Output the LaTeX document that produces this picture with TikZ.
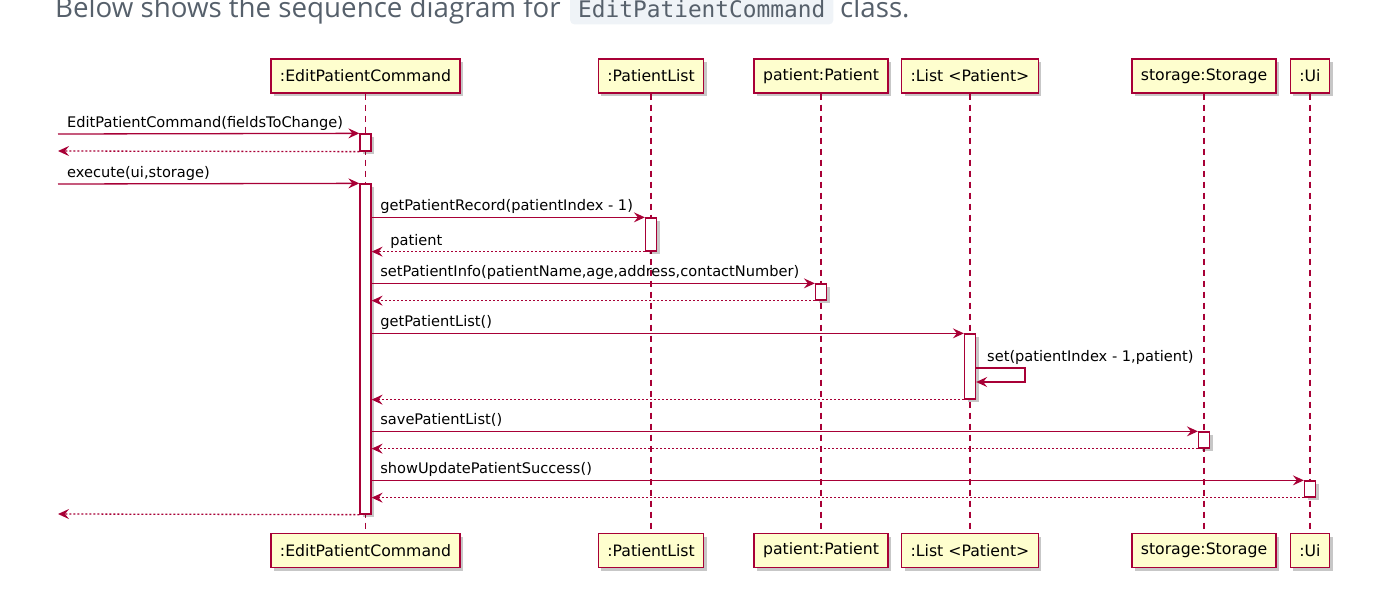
\documentclass[tikz,border=0pt]{standalone}
\usepackage{fontspec}
\setmainfont{DejaVu Sans}
\newfontfamily\titlefont{Open Sans}
\newfontfamily\codefont{DejaVu Sans Mono}
\usetikzlibrary{arrows.meta,shadows}
\definecolor{puml}{HTML}{A80036}
\definecolor{pfill}{HTML}{FEFECE}
\definecolor{titlegray}{HTML}{56606B}
\definecolor{codebg}{HTML}{EFF3F7}
\begin{document}
\begin{tikzpicture}[x=1pt,y=-1pt,
 shadowed/.style={drop shadow={shadow xshift=3pt,shadow yshift=-3pt,fill=black,opacity=0.22}},
 part/.style={draw=puml, fill=pfill, line width=1.4pt, minimum height=34pt, inner xsep=9pt, inner ysep=0pt, font=\fontsize{15.7}{18}\selectfont, text=black, shadowed},
 act/.style={draw=puml, fill=white, line width=1.3pt, minimum width=11pt, inner sep=0pt, shadowed},
 life/.style={draw=puml, line width=1.1pt, dash pattern=on 6pt off 5pt},
 msg/.style={draw=puml, line width=1.3pt, -{Stealth[length=11pt,width=10pt,inset=4pt]}},
 ret/.style={msg, dash pattern=on 2pt off 2pt},
 lbl/.style={font=\fontsize{14.6}{17}\selectfont, text=black, anchor=base west, inner sep=0pt},
 ttl/.style={anchor=base west, inner sep=0pt, font=\titlefont\fontsize{27.7}{32}\selectfont, text=titlegray},
]
\useasboundingbox (0,0) rectangle (1380,604);
% title
\node[ttl] (title1) at (55,18) {Below shows the sequence diagram for};
\node[anchor=base west, fill=codebg, rounded corners=4pt, inner xsep=8pt, inner ysep=6pt, font=\codefont\fontsize{22.8}{27}\selectfont, text=titlegray] (code) at (570,18) {EditPatientCommand};
\node[ttl] (title2) at (840,18) {class.};
% participants
\node[part] (t1) at (365.5,76) {:EditPatientCommand};
\node[part] (t2) at (651,76) {:PatientList};
\node[part] (t3) at (821,76) {patient:Patient};
\node[part] (t4) at (970,76) {:List <Patient>};
\node[part] (t5) at (1204,76) {storage:Storage};
\node[part] (t6) at (1310,76) {:Ui};
\node[part] (b1) at (365.5,550.5) {:EditPatientCommand};
\node[part] (b2) at (651,550.5) {:PatientList};
\node[part] (b3) at (821,550.5) {patient:Patient};
\node[part] (b4) at (970,550.5) {:List <Patient>};
\node[part] (b5) at (1204,550.5) {storage:Storage};
\node[part] (b6) at (1310,550.5) {:Ui};
% lifelines
\draw[life] (t1) -- (b1);
\draw[life] (t2) -- (b2);
\draw[life] (t3) -- (b3);
\draw[life] (t4) -- (b4);
\draw[life] (t5) -- (b5);
\draw[life] (t6) -- (b6);
% activations
\node[act, minimum height=17pt] (A1) at (365.5,142.5) {};
\node[act, minimum height=330pt] (A2) at (365.5,349) {};
\node[act, minimum height=33pt] (P1) at (651,234.5) {};
\node[act, minimum height=16pt] (P2) at (821,292) {};
\node[act, minimum height=65pt] (L1) at (970,366.5) {};
\node[act, minimum height=16pt] (S1) at (1204,440) {};
\node[act, minimum height=16pt] (U1) at (1310,489) {};
% free ends
\coordinate (c1) at (58,134);
\coordinate (c2) at (58,151);
\coordinate (c3) at (58,184);
\coordinate (c4) at (58,514);
\coordinate (s1) at (1025,368);
\coordinate (s2) at (1025,382);
% messages
\draw[msg] (c1) -- (A1.north west) node[lbl, pos=0, xshift=8.5pt, yshift=6.5pt] {EditPatientCommand(fieldsToChange)};
\draw[ret] (A1.south west) -- (c2);
\draw[msg] (c3) -- (A2.north west) node[lbl, pos=0, xshift=8.5pt, yshift=6.5pt] {execute(ui,storage)};
\draw[msg] (A2.east |- P1.north) -- (P1.north west) node[lbl, pos=0, xshift=8pt, yshift=6.5pt] {getPatientRecord(patientIndex - 1)};
\draw[ret] (P1.south west) -- (A2.east |- P1.south) node[lbl, pos=1, xshift=18pt, yshift=6.5pt] {patient};
\draw[msg] (A2.east |- P2.north) -- (P2.north west) node[lbl, pos=0, xshift=8pt, yshift=6.5pt] {setPatientInfo(patientName,age,address,contactNumber)};
\draw[ret] (P2.south west) -- (A2.east |- P2.south);
\draw[msg] (A2.east |- L1.north) -- (L1.north west) node[lbl, pos=0, xshift=8pt, yshift=6.5pt] {getPatientList()};
\draw[msg] (L1.east |- s1) -- (s1) -- (s2) -- (L1.east |- s2);
\node[lbl] (slbl) at (987,361) {set(patientIndex - 1,patient)};
\draw[ret] (L1.south west) -- (A2.east |- L1.south);
\draw[msg] (A2.east |- S1.north) -- (S1.north west) node[lbl, pos=0, xshift=8pt, yshift=6.5pt] {savePatientList()};
\draw[ret] (S1.south west) -- (A2.east |- S1.south);
\draw[msg] (A2.east |- U1.north) -- (U1.north west) node[lbl, pos=0, xshift=8pt, yshift=6.5pt] {showUpdatePatientSuccess()};
\draw[ret] (U1.south west) -- (A2.east |- U1.south);
\draw[ret] (A2.south west) -- (c4);
\end{tikzpicture}
\end{document}
